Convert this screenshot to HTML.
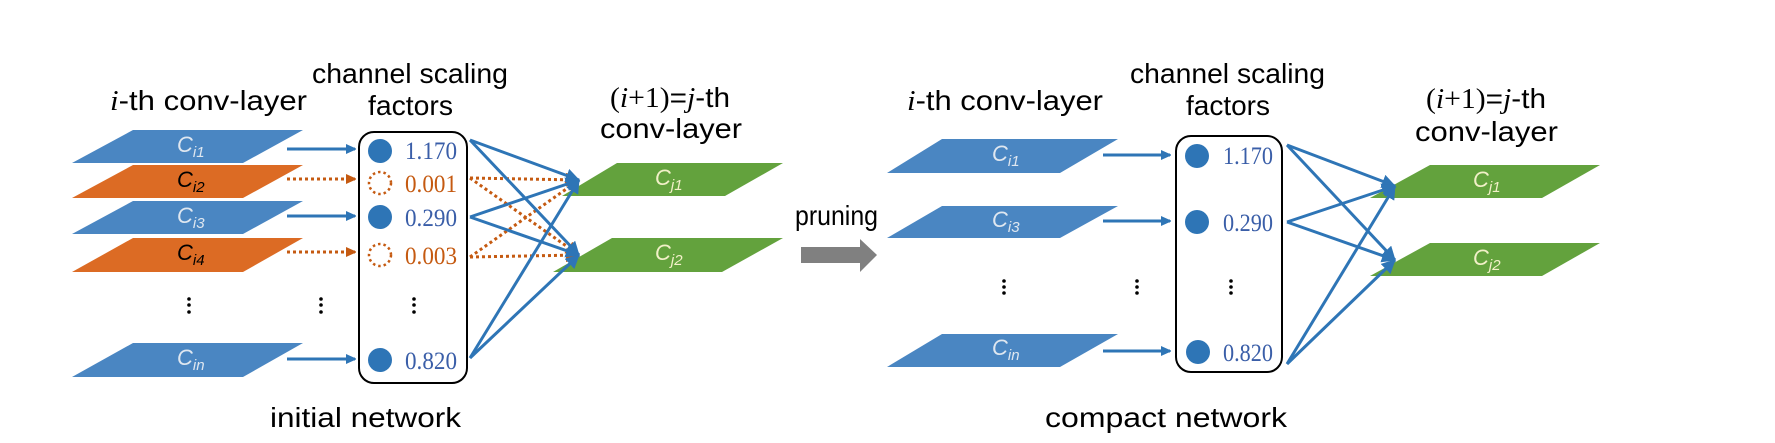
<!DOCTYPE html>
<html><head><meta charset="utf-8"><style>
html,body{margin:0;padding:0;background:#fff;}
svg{display:block;}
.t{font-family:"Liberation Sans",sans-serif;font-size:28px;fill:#000;}
.n{font-family:"Liberation Serif",serif;font-size:25px;}
.lab{font-family:"Liberation Sans",sans-serif;font-style:italic;font-size:22px;}
.sub{font-size:15px;}
</style></head><body>
<svg width="1775" height="443" viewBox="0 0 1775 443" xmlns="http://www.w3.org/2000/svg">
<defs>
<marker id="ab" markerWidth="10" markerHeight="10" refX="9" refY="5" orient="auto" markerUnits="userSpaceOnUse"><path d="M0,0 L11,5 L0,10 z" fill="#2e75b6"/></marker>
<marker id="ab2" markerWidth="14" markerHeight="14" refX="13" refY="7" orient="auto" markerUnits="userSpaceOnUse"><path d="M0,0 L14,7 L0,14 z" fill="#2e75b6"/></marker>
<marker id="ao" markerWidth="10" markerHeight="10" refX="9" refY="5" orient="auto" markerUnits="userSpaceOnUse"><path d="M0,0 L11,5 L0,10 z" fill="#c55a11"/></marker>
<marker id="ao2" markerWidth="14" markerHeight="14" refX="13" refY="7" orient="auto" markerUnits="userSpaceOnUse"><path d="M0,0 L14,7 L0,14 z" fill="#c55a11"/></marker>
</defs>

<!-- ===== LEFT PANEL ===== -->
<text class="t" x="110" y="110" textLength="197" lengthAdjust="spacingAndGlyphs"><tspan font-family="Liberation Serif" font-style="italic">i</tspan>-th conv-layer</text>
<text class="t" x="312" y="83" textLength="196" lengthAdjust="spacingAndGlyphs">channel scaling</text>
<text class="t" x="368" y="115" textLength="85" lengthAdjust="spacingAndGlyphs">factors</text>
<text class="t" x="610" y="107" textLength="120" lengthAdjust="spacingAndGlyphs"><tspan font-family="Liberation Serif">(</tspan><tspan font-family="Liberation Serif" font-style="italic">i</tspan><tspan font-family="Liberation Serif">+1)</tspan>=<tspan font-family="Liberation Serif" font-style="italic">j</tspan>-th</text>
<text class="t" x="600" y="138" textLength="142" lengthAdjust="spacingAndGlyphs">conv-layer</text>

<!-- planes -->
<polygon points="133,130 303,130 243,163 72,163" fill="#4a86c2"/>
<text class="lab" x="177" y="152" fill="#dfe7f0">C<tspan class="sub" dy="5">i1</tspan></text>
<polygon points="133,165 303,165 243,198 72,198" fill="#dc6b24"/>
<text class="lab" x="177" y="187" fill="#000">C<tspan class="sub" dy="5">i2</tspan></text>
<polygon points="133,201 303,201 243,234 72,234" fill="#4a86c2"/>
<text class="lab" x="177" y="223" fill="#dfe7f0">C<tspan class="sub" dy="5">i3</tspan></text>
<polygon points="133,238 303,238 243,272 72,272" fill="#dc6b24"/>
<text class="lab" x="177" y="260" fill="#000">C<tspan class="sub" dy="5">i4</tspan></text>
<polygon points="133,343 303,343 243,377 72,377" fill="#4a86c2"/>
<text class="lab" x="177" y="365" fill="#dfe7f0">C<tspan class="sub" dy="5">in</tspan></text>

<!-- dots -->
<g fill="#000">
<circle cx="189" cy="299" r="1.8"/><circle cx="189" cy="305" r="1.8"/><circle cx="189" cy="312" r="1.8"/>
<circle cx="321" cy="299" r="1.8"/><circle cx="321" cy="305" r="1.8"/><circle cx="321" cy="312" r="1.8"/>
<circle cx="414" cy="299" r="1.8"/><circle cx="414" cy="305" r="1.8"/><circle cx="414" cy="312" r="1.8"/>
</g>

<!-- input arrows -->
<line x1="287" y1="149" x2="355" y2="149" stroke="#2e75b6" stroke-width="3" marker-end="url(#ab)"/>
<line x1="287" y1="179" x2="355" y2="179" stroke="#c55a11" stroke-width="3" stroke-dasharray="3,3" marker-end="url(#ao)"/>
<line x1="287" y1="216" x2="355" y2="216" stroke="#2e75b6" stroke-width="3" marker-end="url(#ab)"/>
<line x1="287" y1="252" x2="355" y2="252" stroke="#c55a11" stroke-width="3" stroke-dasharray="3,3" marker-end="url(#ao)"/>
<line x1="287" y1="359" x2="355" y2="359" stroke="#2e75b6" stroke-width="3" marker-end="url(#ab)"/>

<!-- box -->
<rect x="359" y="132" width="108" height="251" rx="15" ry="15" fill="none" stroke="#000" stroke-width="2"/>
<circle cx="380" cy="151" r="12" fill="#2e75b6"/>
<circle cx="380" cy="183" r="11" fill="none" stroke="#c55a11" stroke-width="2.5" stroke-dasharray="2.5,3"/>
<circle cx="380" cy="217" r="12" fill="#2e75b6"/>
<circle cx="380" cy="255" r="11" fill="none" stroke="#c55a11" stroke-width="2.5" stroke-dasharray="2.5,3"/>
<circle cx="380" cy="360" r="12" fill="#2e75b6"/>
<text class="n" x="405" y="159" fill="#3a5ea8" textLength="52" lengthAdjust="spacingAndGlyphs">1.170</text>
<text class="n" x="405" y="192" fill="#c55a11" textLength="52" lengthAdjust="spacingAndGlyphs">0.001</text>
<text class="n" x="405" y="226" fill="#3a5ea8" textLength="52" lengthAdjust="spacingAndGlyphs">0.290</text>
<text class="n" x="405" y="264" fill="#c55a11" textLength="52" lengthAdjust="spacingAndGlyphs">0.003</text>
<text class="n" x="405" y="369" fill="#3a5ea8" textLength="52" lengthAdjust="spacingAndGlyphs">0.820</text>

<!-- green planes -->
<polygon points="617,163 783,163 725,196 562,196" fill="#63a23d"/>
<text class="lab" x="655" y="185" fill="#f2f0c8">C<tspan class="sub" dy="5">j1</tspan></text>
<polygon points="612,238 783,238 722,272 553,272" fill="#63a23d"/>
<text class="lab" x="655" y="260" fill="#f2f0c8">C<tspan class="sub" dy="5">j2</tspan></text>

<!-- connections -->
<g stroke="#c55a11" stroke-width="3" stroke-dasharray="3,3" fill="none">
<line x1="470" y1="178" x2="579" y2="180" marker-end="url(#ao2)"/>
<line x1="470" y1="178" x2="579" y2="255" marker-end="url(#ao2)"/>
<line x1="470" y1="257" x2="579" y2="180" marker-end="url(#ao2)"/>
<line x1="470" y1="257" x2="579" y2="255" marker-end="url(#ao2)"/>
</g>
<g stroke="#2e75b6" stroke-width="3" fill="none">
<line x1="470" y1="140" x2="579" y2="180" marker-end="url(#ab2)"/>
<line x1="470" y1="140" x2="579" y2="255" marker-end="url(#ab2)"/>
<line x1="470" y1="217" x2="579" y2="180" marker-end="url(#ab2)"/>
<line x1="470" y1="217" x2="579" y2="255" marker-end="url(#ab2)"/>
<line x1="470" y1="358" x2="579" y2="180" marker-end="url(#ab2)"/>
<line x1="470" y1="358" x2="579" y2="255" marker-end="url(#ab2)"/>
</g>

<text class="t" x="270" y="427" textLength="191" lengthAdjust="spacingAndGlyphs">initial network</text>

<!-- pruning -->
<text class="t" x="795" y="225" textLength="83" lengthAdjust="spacingAndGlyphs">pruning</text>
<polygon points="801,247 860,247 860,239 877,255 860,272 860,263 801,263" fill="#808080"/>

<!-- ===== RIGHT PANEL ===== -->
<text class="t" x="907" y="110" textLength="196" lengthAdjust="spacingAndGlyphs"><tspan font-family="Liberation Serif" font-style="italic">i</tspan>-th conv-layer</text>
<text class="t" x="1130" y="83" textLength="195" lengthAdjust="spacingAndGlyphs">channel scaling</text>
<text class="t" x="1186" y="115" textLength="84" lengthAdjust="spacingAndGlyphs">factors</text>
<text class="t" x="1426" y="108" textLength="120" lengthAdjust="spacingAndGlyphs"><tspan font-family="Liberation Serif">(</tspan><tspan font-family="Liberation Serif" font-style="italic">i</tspan><tspan font-family="Liberation Serif">+1)</tspan>=<tspan font-family="Liberation Serif" font-style="italic">j</tspan>-th</text>
<text class="t" x="1415" y="141" textLength="143" lengthAdjust="spacingAndGlyphs">conv-layer</text>

<polygon points="942,139 1118,139 1060,173 887,173" fill="#4a86c2"/>
<text class="lab" x="992" y="161" fill="#dfe7f0">C<tspan class="sub" dy="5">i1</tspan></text>
<polygon points="942,206 1118,206 1060,238 887,238" fill="#4a86c2"/>
<text class="lab" x="992" y="227" fill="#dfe7f0">C<tspan class="sub" dy="5">i3</tspan></text>
<polygon points="942,334 1118,334 1060,367 887,367" fill="#4a86c2"/>
<text class="lab" x="992" y="355" fill="#dfe7f0">C<tspan class="sub" dy="5">in</tspan></text>

<g fill="#000">
<circle cx="1004" cy="281" r="1.8"/><circle cx="1004" cy="287" r="1.8"/><circle cx="1004" cy="293" r="1.8"/>
<circle cx="1137" cy="281" r="1.8"/><circle cx="1137" cy="287" r="1.8"/><circle cx="1137" cy="293" r="1.8"/>
<circle cx="1231" cy="281" r="1.8"/><circle cx="1231" cy="287" r="1.8"/><circle cx="1231" cy="293" r="1.8"/>
</g>

<line x1="1103" y1="155" x2="1170" y2="155" stroke="#2e75b6" stroke-width="3" marker-end="url(#ab)"/>
<line x1="1103" y1="221" x2="1170" y2="221" stroke="#2e75b6" stroke-width="3" marker-end="url(#ab)"/>
<line x1="1103" y1="351" x2="1170" y2="351" stroke="#2e75b6" stroke-width="3" marker-end="url(#ab)"/>

<rect x="1176" y="136" width="106" height="236" rx="15" ry="15" fill="none" stroke="#000" stroke-width="2"/>
<circle cx="1197" cy="156" r="12" fill="#2e75b6"/>
<circle cx="1197" cy="222" r="12" fill="#2e75b6"/>
<circle cx="1198" cy="352" r="12" fill="#2e75b6"/>
<text class="n" x="1223" y="164" fill="#3a5ea8" textLength="50" lengthAdjust="spacingAndGlyphs">1.170</text>
<text class="n" x="1223" y="231" fill="#3a5ea8" textLength="50" lengthAdjust="spacingAndGlyphs">0.290</text>
<text class="n" x="1223" y="361" fill="#3a5ea8" textLength="50" lengthAdjust="spacingAndGlyphs">0.820</text>

<polygon points="1430,165 1600,165 1542,198 1370,198" fill="#63a23d"/>
<text class="lab" x="1473" y="187" fill="#f2f0c8">C<tspan class="sub" dy="5">j1</tspan></text>
<polygon points="1430,243 1600,243 1542,276 1370,276" fill="#63a23d"/>
<text class="lab" x="1473" y="265" fill="#f2f0c8">C<tspan class="sub" dy="5">j2</tspan></text>

<g stroke="#2e75b6" stroke-width="3" fill="none">
<line x1="1287" y1="145" x2="1395" y2="186" marker-end="url(#ab2)"/>
<line x1="1287" y1="145" x2="1395" y2="260" marker-end="url(#ab2)"/>
<line x1="1287" y1="222" x2="1395" y2="186" marker-end="url(#ab2)"/>
<line x1="1287" y1="222" x2="1395" y2="260" marker-end="url(#ab2)"/>
<line x1="1287" y1="364" x2="1395" y2="186" marker-end="url(#ab2)"/>
<line x1="1287" y1="364" x2="1395" y2="260" marker-end="url(#ab2)"/>
</g>

<text class="t" x="1045" y="427" textLength="242" lengthAdjust="spacingAndGlyphs">compact network</text>
</svg>
</body></html>
